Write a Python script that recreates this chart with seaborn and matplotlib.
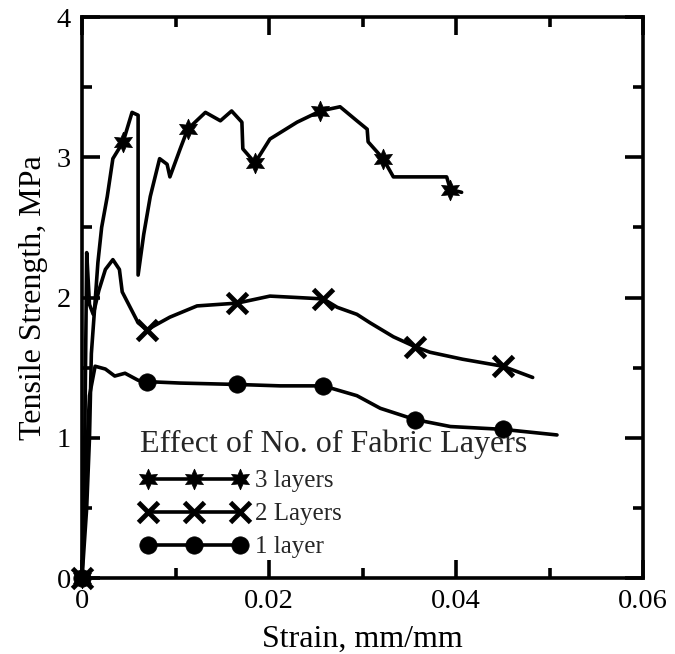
import numpy as np
import pandas as pd
import matplotlib
matplotlib.use("Agg")
import matplotlib.pyplot as plt
from matplotlib.lines import Line2D
from matplotlib.ticker import MultipleLocator, FixedLocator, FixedFormatter
import seaborn as sns

# ---- data ----
x3 = [0.0, 0.0005, 0.0008, 0.0010, 0.0017, 0.0021, 0.0027, 0.0033, 0.0044, 0.00535, 0.00567, 0.0060,
      0.0060, 0.0066, 0.0073, 0.0083, 0.0091, 0.0094, 0.0105, 0.0113, 0.0132, 0.0148, 0.0160,
      0.0171, 0.0172, 0.0185, 0.0201, 0.0230, 0.0255, 0.0276, 0.0294, 0.0305, 0.0306, 0.0322,
      0.0333, 0.0351, 0.0390, 0.0394, 0.0406]
y3 = [0.0, 0.50, 1.00, 1.60, 2.25, 2.50, 2.72, 2.99, 3.11, 3.32, 3.31, 3.30,
      2.16, 2.45, 2.72, 2.99, 2.95, 2.86, 3.06, 3.20, 3.32, 3.26, 3.33,
      3.25, 3.06, 2.96, 3.13, 3.25, 3.33, 3.36, 3.26, 3.20, 3.11, 2.99,
      2.86, 2.86, 2.86, 2.77, 2.75]
mk3 = [0, 8, 19, 25, 28, 33, 37]

x2 = [0.0, 0.0003, 0.0005, 0.0008, 0.0012, 0.0018, 0.0025, 0.0033, 0.0040, 0.0043, 0.0060,
      0.00695, 0.0094, 0.0123, 0.0166, 0.0201, 0.0230, 0.0258, 0.0273, 0.0294, 0.0308,
      0.0333, 0.0356, 0.0372, 0.0407, 0.0450, 0.0482]
y2 = [0.0, 1.00, 2.32, 1.95, 1.88, 2.05, 2.20, 2.27, 2.20, 2.04, 1.82,
      1.77, 1.86, 1.94, 1.96, 2.01, 2.00, 1.99, 1.93, 1.88, 1.82,
      1.72, 1.65, 1.61, 1.56, 1.51, 1.43]
mk2 = [0, 11, 14, 17, 22, 25]

x1 = [0.0, 0.0003, 0.0008, 0.0014, 0.0025, 0.0035, 0.0046, 0.0060, 0.0070, 0.0105, 0.0166,
      0.0212, 0.0258, 0.0294, 0.0319, 0.0356, 0.0394, 0.0450, 0.0508]
y1 = [0.0, 0.60, 1.30, 1.51, 1.49, 1.44, 1.46, 1.41, 1.40, 1.39, 1.38,
      1.37, 1.37, 1.30, 1.21, 1.13, 1.08, 1.06, 1.02]
mk1 = [0, 8, 10, 12, 15, 17]

labels = ["3 layers", "2 Layers", "1 layer"]
legend_title = "Effect of No. of Fabric Layers"
xticks = [0, 0.02, 0.04, 0.06]
xtick_labels = ["0", "0.02", "0.04", "0.06"]
yticks = [0, 1, 2, 3, 4]
ytick_labels = ["0", "1", "2", "3", "4"]
xlabel = "Strain, mm/mm"
ylabel = "Tensile Strength, MPa"

# ---- style ----
sns.set_style("ticks")
plt.rcParams["font.family"] = ["Liberation Serif", "DejaVu Serif"]

fig = plt.figure(figsize=(6.75, 6.54), dpi=100)
ax = fig.add_axes([0.1215, 0.1162, 0.8311, 0.8578])

star = (6, 1, 0)
styles = [
    dict(marker=star, markersize=15, markeredgewidth=0.5),
    dict(marker="x", markersize=14, markeredgewidth=3.5),
    dict(marker="o", markersize=12.5, markeredgewidth=0.5),
]
series = [(x3, y3, mk3), (x2, y2, mk2), (x1, y1, mk1)]

for (xs, ys, mk), lab, st in zip(series, labels, styles):
    df = pd.DataFrame({"strain": xs, "stress": ys})
    sns.lineplot(data=df, x="strain", y="stress", ax=ax, sort=False, estimator=None,
                 color="black", linewidth=2.6, markevery=mk, legend=False, clip_on=False,
                 markerfacecolor="black", markeredgecolor="black", zorder=3, **st)

ax.set_xlim(0, 0.06)
ax.set_ylim(0, 4)
ax.xaxis.set_major_locator(FixedLocator(xticks))
ax.xaxis.set_major_formatter(FixedFormatter(xtick_labels))
ax.yaxis.set_major_locator(FixedLocator(yticks))
ax.yaxis.set_major_formatter(FixedFormatter(ytick_labels))
ax.xaxis.set_minor_locator(MultipleLocator(0.01))
ax.yaxis.set_minor_locator(MultipleLocator(0.5))
ax.tick_params(which="both", direction="in", top=True, right=True, width=2.6,
               labelsize=20.5, color="black", labelcolor="black")
ax.tick_params(which="major", length=13, pad=8)
ax.tick_params(which="minor", length=7)
for s in ax.spines.values():
    s.set_visible(True)
    s.set_linewidth(2.6)
    s.set_color("black")

ax.set_xlabel(xlabel, fontsize=23, color="black", labelpad=8)
ax.set_ylabel(ylabel, fontsize=23, color="black", labelpad=6)

handles = [Line2D([0], [0], color="black", linewidth=2.6, markerfacecolor="black",
                  markeredgecolor="black", **st) for st in styles]
leg = ax.legend(handles, labels, title=legend_title, loc="lower left",
                bbox_to_anchor=(0.073, 0.004), frameon=False, numpoints=3,
                fontsize=18, title_fontsize=23, handlelength=4.3,
                handletextpad=0.3, labelspacing=0.42, borderpad=0.2)
leg._legend_box.align = "left"

fig.savefig("out.png", dpi=100, facecolor="white")
